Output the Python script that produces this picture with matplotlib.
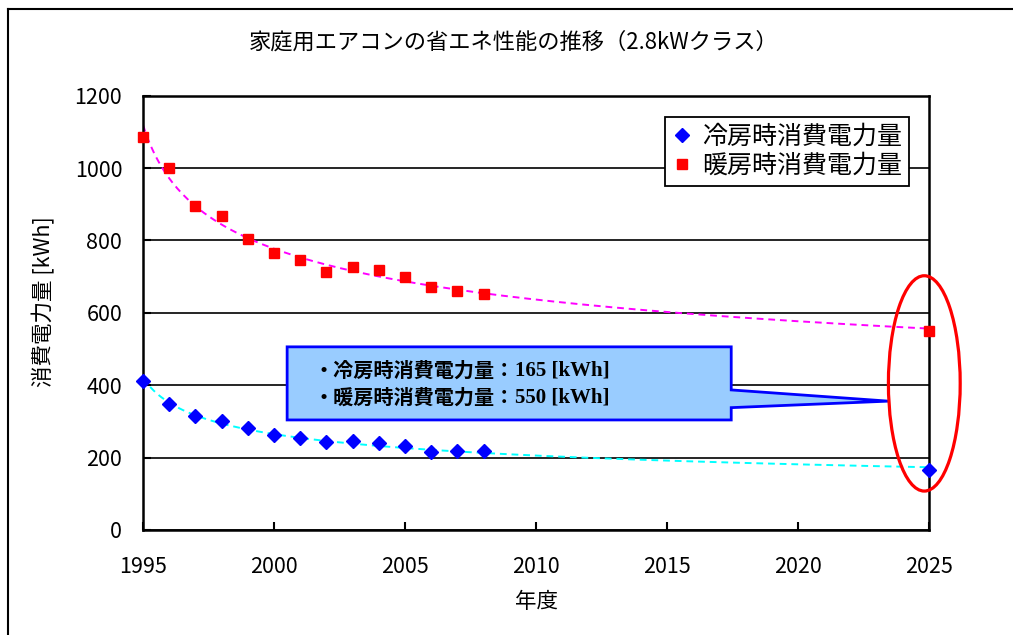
import matplotlib.pyplot as plt
import numpy as np
from matplotlib.patches import Ellipse, Polygon
from matplotlib.lines import Line2D

plt.rcParams['font.family'] = ['Noto Sans CJK JP', 'DejaVu Sans']

# 年度ごとの消費電力量 [kWh]（2025年は目標値）
years = [1995, 1996, 1997, 1998, 1999, 2000, 2001, 2002, 2003, 2004, 2005, 2006, 2007, 2008, 2025]
cooling = [412, 347, 315, 301, 281, 263, 253, 244, 245, 240, 231, 216, 217, 217, 165]
heating = [1085, 1001, 895, 867, 805, 765, 745, 714, 726, 718, 698, 670, 661, 652, 550]

cool_label = '冷房時消費電力量'
heat_label = '暖房時消費電力量'
title = '家庭用エアコンの省エネ性能の推移（2.8kWクラス）'


def power_trend(x, y):
    # 累乗近似（x は 1995 年を 1 とする通し番号）
    t = np.asarray(x) - 1994
    b, a = np.polyfit(np.log(t), np.log(y), 1)
    tt = np.linspace(1, t.max(), 300)
    return tt + 1994, np.exp(a) * tt ** b


fig = plt.figure(figsize=(10.13, 6.35), dpi=100)
ax = fig.add_axes([0.1412, 0.1654, 0.7759, 0.6839])

xs, ys = power_trend(years, heating)
ax.plot(xs, ys, color='#FF00FF', lw=1.4, dashes=(3.5, 2.5), zorder=2)
xs, ys = power_trend(years, cooling)
ax.plot(xs, ys, color='#00FFFF', lw=1.4, dashes=(3.5, 2.5), zorder=2)

ax.plot(years, cooling, 'D', color='#0000FF', ms=7.5, label=cool_label, clip_on=False, zorder=5)
ax.plot(years, heating, 's', color='#FF0000', ms=7.5, label=heat_label, clip_on=False, zorder=5)

ax.set_xlim(1995, 2025)
ax.set_ylim(0, 1200)
ax.set_xticks(range(1995, 2026, 5))
ax.set_yticks(range(0, 1201, 200))
ax.tick_params(direction='in', length=6, width=1.5, labelsize=15.5)
ax.tick_params(axis='x', pad=19)
ax.tick_params(axis='y', pad=15)
ax.grid(axis='y', color='black', lw=1.2)
ax.set_axisbelow(True)
for s in ax.spines.values():
    s.set_linewidth(1.8)

ax.set_xlabel('年度', fontsize=15.5)
ax.xaxis.set_label_coords(0.5, -0.14)
ax.set_ylabel('消費電力量 [kWh]', fontsize=15.5)
ax.yaxis.set_label_coords(-0.112, 0.525)

leg = ax.legend(loc='upper right', bbox_to_anchor=(0.975, 0.952), fontsize=18,
                frameon=True, fancybox=False, edgecolor='black', framealpha=1,
                handlelength=0.8, handletextpad=0.4, borderpad=0.28,
                labelspacing=0.12, borderaxespad=0, markerscale=1.0)
leg.get_frame().set_linewidth(1.3)

# 2025年目標の吹き出し
L, R, T, B = 2000.5, 2017.45, 506, 304
callout = Polygon([(L, T), (R, T), (R, 387), (2023.45, 356), (R, 338), (R, B), (L, B)],
                  closed=True, facecolor='#99CCFF', edgecolor='#0000FF', lw=2, zorder=3)
ax.add_patch(callout)
bold = dict(fontsize=14.5, fontweight='bold', va='center', ha='left', zorder=4)
serif = ['Liberation Serif', 'Noto Sans CJK JP']
for y0, name, val in [(442, cool_label, cooling[-1]), (367, heat_label, heating[-1])]:
    t1 = ax.text(2001.5, y0, f'・{name}：', **bold)
    fig.canvas.draw()
    ax.annotate(f'{val} [kWh]', xy=(1, 0.5), xycoords=t1, va='center', ha='left',
                fontsize=15, fontweight='bold', family=serif, zorder=4)

ax.add_patch(Ellipse((2024.82, 405), 2.74, 595, fill=False, edgecolor='#FF0000',
                     lw=2.3, clip_on=False, zorder=6))

fig.suptitle(title, x=0.507, y=1 - 42 / 635, va='center', fontsize=16)

# 外枠（左と上）
fig.add_artist(Line2D([0.0079, 0.0079], [0.0, 0.9858], color='black', lw=1.5))
fig.add_artist(Line2D([0.0079, 1.0], [0.9858, 0.9858], color='black', lw=1.5))

fig.savefig('out.png', dpi=100)
